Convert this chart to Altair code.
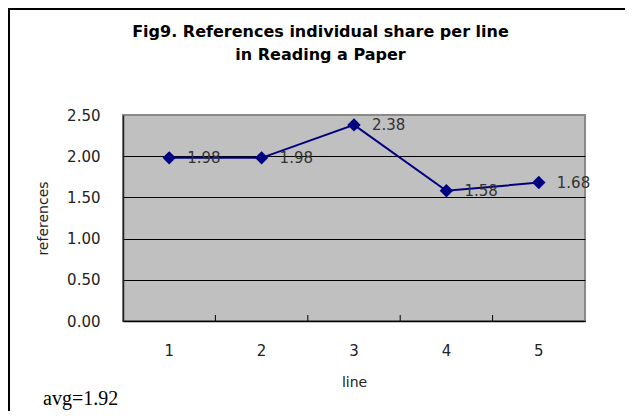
import altair as alt
import pandas as pd

lines = [1, 2, 3, 4, 5]
refs = [1.98, 1.98, 2.38, 1.58, 1.68]
y_ticks = [0.0, 0.5, 1.0, 1.5, 2.0, 2.5]
title_line1 = "Fig9. References individual share per line"
title_line2 = "in Reading a Paper"
avg_text = "avg=1.92"

df = pd.DataFrame({"line": lines, "refs": refs})

W, H = 462, 206
FONT = "DejaVu Sans"

x_enc = alt.X(
    "line:O",
    scale=alt.Scale(type="band", paddingInner=0, paddingOuter=0),
    axis=alt.Axis(
        title="line",
        labelAngle=0,
        ticks=False,
        tickSize=0,
        labelPadding=29,
        labelBaseline="middle",
        labelFont=FONT,
        labelFontSize=15,
        labelColor="#222",
        titleFont=FONT,
        titleFontSize=14,
        titleFontWeight="normal",
        titleColor="#222",
        titleY=61,
        titleBaseline="middle",
        domainColor="black",
        domainWidth=1.5,
        grid=False,
    ),
)

y_enc = alt.Y(
    "refs:Q",
    scale=alt.Scale(domain=[0, 2.5], nice=False, zero=True),
    axis=alt.Axis(
        title="references",
        values=y_ticks,
        format=".2f",
        ticks=False,
        tickSize=0,
        labelPadding=23,
        labelFont=FONT,
        labelFontSize=15,
        labelColor="#222",
        titleFont=FONT,
        titleFontSize=14,
        titleFontWeight="normal",
        titleColor="#222",
        titleAngle=270,
        titleX=-80,
        titleY=H / 2,
        titleAlign="center",
        titleBaseline="middle",
        domainColor="#222",
        domainWidth=1.5,
        grid=True,
        gridColor={"condition": {"test": "datum.value >= 2.5", "value": "#8a8a8a"}, "value": "black"},
        gridWidth=1,
    ),
)

base = alt.Chart(df)

line = base.mark_line(color="#000080", strokeWidth=2).encode(x=x_enc, y=y_enc)
pts = base.mark_point(shape="diamond", filled=True, size=180, color="#000080", opacity=1).encode(
    x="line:O", y="refs:Q"
)
labels = base.mark_text(
    align="left", baseline="middle", dx=18, font=FONT, fontSize=15, color="#333"
).encode(x="line:O", y="refs:Q", text=alt.Text("refs:Q", format=".2f"))

ticks = base.transform_filter("datum.line > 1").mark_rule(color="black", strokeWidth=1).encode(
    x=alt.X("line:O", bandPosition=0), y=alt.value(H - 6), y2=alt.value(H)
)

frame = alt.Chart(pd.DataFrame({"k": [0]})).mark_rect(
    fill="transparent", stroke="black", strokeWidth=2
).encode(x=alt.value(-114), x2=alt.value(W + 300), y=alt.value(-106), y2=alt.value(H + 300))

t1 = alt.Chart(pd.DataFrame({"t": [title_line1]})).mark_text(
    align="center", baseline="middle", font=FONT, fontSize=16, fontWeight="bold", color="black"
).encode(x=alt.value(197.5), y=alt.value(-83), text="t:N")

t2 = alt.Chart(pd.DataFrame({"t": [title_line2]})).mark_text(
    align="center", baseline="middle", font=FONT, fontSize=16, fontWeight="bold", color="black"
).encode(x=alt.value(197.5), y=alt.value(-60), text="t:N")

avg = alt.Chart(pd.DataFrame({"t": [avg_text]})).mark_text(
    align="left", baseline="alphabetic", font="Liberation Serif", fontSize=20, color="black"
).encode(x=alt.value(-80), y=alt.value(290), text="t:N")

chart = (
    alt.layer(frame, line, ticks, pts, labels, t1, t2, avg)
    .properties(
        width=W,
        height=H,
        autosize=alt.AutoSizeParams(type="none"),
        padding={"left": 115, "top": 107, "right": 40, "bottom": 90},
        background="white",
    )
    .configure_view(fill="#c0c0c0", stroke="#8a8a8a", strokeWidth=2)
)

chart.save("out.html", embed_options={"renderer": "svg", "actions": False})
